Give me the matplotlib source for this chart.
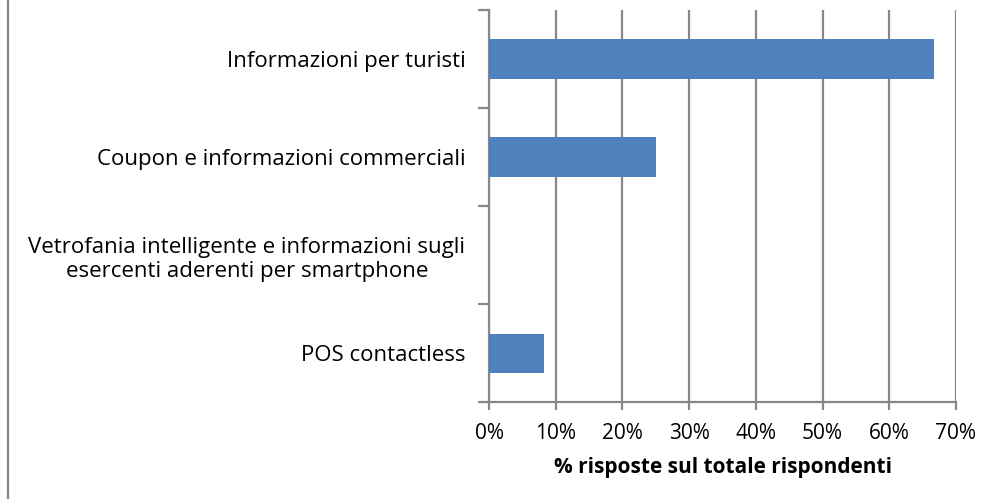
import matplotlib.pyplot as plt
import matplotlib.ticker as mticker
from matplotlib.lines import Line2D

plt.rcParams['font.family'] = ['Open Sans', 'DejaVu Sans']

categories = ['Informazioni per turisti',
              'Coupon e informazioni commerciali',
              'Vetrofania intelligente e informazioni sugli\nesercenti aderenti per smartphone',
              'POS contactless']
values = [66.7, 25.0, 0.0, 8.3]
xticks = [0, 10, 20, 30, 40, 50, 60, 70]

grey = '#888888'
blue = '#4f81bd'

fig = plt.figure(figsize=(9.93, 4.99), dpi=100)
ax = fig.add_axes([0.4925, 0.194, 0.4702, 0.786])

pos = list(range(len(categories)))
ax.barh(pos, values, height=0.4, color=blue, zorder=3)
ax.set_ylim(len(categories) - 0.5, -0.5)
ax.set_xlim(0, 70)

ax.set_xticks(xticks)
ax.xaxis.set_major_formatter(mticker.FuncFormatter(lambda v, p: '%d%%' % v))
ax.grid(axis='x', color=grey, linewidth=1.6, zorder=0)

ax.set_yticks(pos)
ax.set_yticklabels(categories, multialignment='center', linespacing=1.2)
ax.set_yticks([p - 0.5 for p in pos] + [len(pos) - 0.5], minor=True)
ax.tick_params(axis='y', which='major', length=0, pad=17, labelsize=16, colors='black')
ax.tick_params(axis='y', which='minor', length=8, width=1.6, color=grey)
ax.tick_params(axis='x', length=6, width=1.6, color=grey, labelsize=15, pad=9)

for s in ['top', 'right']:
    ax.spines[s].set_visible(False)
for s in ['left', 'bottom']:
    ax.spines[s].set_color(grey)
    ax.spines[s].set_linewidth(1.6)

ax.set_xlabel('% risposte sul totale rispondenti', fontsize=15, fontweight='bold', labelpad=9)

fig.add_artist(Line2D([0.008, 0.008], [0, 1], color=grey, linewidth=1.6))

fig.savefig('out.png', dpi=100)
